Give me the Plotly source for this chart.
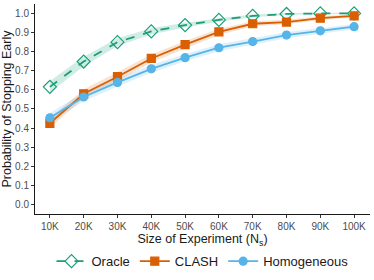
import plotly.graph_objects as go

sizes = ["10K", "20K", "30K", "40K", "50K", "60K", "70K", "80K", "90K", "100K"]
oracle = [0.615, 0.747, 0.848, 0.904, 0.937, 0.964, 0.985, 0.995, 0.998, 0.998]
oracle_lo = [0.585, 0.722, 0.828, 0.888, 0.925, 0.955, 0.978, 0.990, 0.994, 0.994]
oracle_hi = [0.645, 0.772, 0.868, 0.920, 0.949, 0.973, 0.992, 1.000, 1.002, 1.002]
clash = [0.425, 0.579, 0.668, 0.763, 0.835, 0.902, 0.944, 0.953, 0.973, 0.985]
clash_lo = [0.400, 0.555, 0.645, 0.742, 0.816, 0.886, 0.931, 0.941, 0.963, 0.977]
clash_hi = [0.450, 0.603, 0.691, 0.784, 0.854, 0.918, 0.957, 0.965, 0.983, 0.993]
homog = [0.454, 0.562, 0.638, 0.709, 0.767, 0.819, 0.851, 0.885, 0.907, 0.929]
homog_lo = [0.430, 0.540, 0.617, 0.689, 0.748, 0.801, 0.834, 0.869, 0.892, 0.915]
homog_hi = [0.478, 0.584, 0.659, 0.729, 0.786, 0.837, 0.868, 0.901, 0.922, 0.943]
yticks = [0.0, 0.1, 0.2, 0.3, 0.4, 0.5, 0.6, 0.7, 0.8, 0.9, 1.0]

xs = list(range(1, len(sizes) + 1))

series = [
    ("Oracle", oracle, oracle_lo, oracle_hi, "#1b9e77", "rgba(27,158,119,0.2)", "diamond-open", 10, "dash"),
    ("CLASH", clash, clash_lo, clash_hi, "#d95f02", "rgba(217,95,2,0.18)", "square", 8, "solid"),
    ("Homogeneous", homog, homog_lo, homog_hi, "#56b4e9", "rgba(86,180,233,0.2)", "circle", 8, "solid"),
]

fig = go.Figure()
for name, y, lo, hi, col, fillc, sym, ms, dash in series:
    fig.add_trace(go.Scatter(
        x=xs + xs[::-1], y=hi + lo[::-1], fill="toself", fillcolor=fillc,
        line=dict(width=0), mode="lines", showlegend=False, hoverinfo="skip"))
for name, y, lo, hi, col, fillc, sym, ms, dash in series:
    fig.add_trace(go.Scatter(
        x=xs, y=y, name=name, mode="lines+markers",
        line=dict(color=col, width=1.8, dash=dash),
        marker=dict(symbol=sym, size=ms, color=col,
                    line=dict(color=col, width=1.2))))

fig.update_layout(
    width=374, height=280,
    margin=dict(l=35, r=4, t=4, b=60),
    paper_bgcolor="white", plot_bgcolor="white",
    font=dict(family="Liberation Sans, Arial, sans-serif", color="#1a1a1a"),
    showlegend=True,
    legend=dict(orientation="h", x=0.5, xanchor="center", y=-0.225, yanchor="middle",
                font=dict(size=13, color="#1a1a1a"), itemwidth=30,
                tracegroupgap=0),
    xaxis=dict(
        range=[0.56, 10.47], tickmode="array", tickvals=xs, ticktext=sizes,
        showline=True, linecolor="#1a1a1a", linewidth=1, ticks="outside",
        ticklen=3, tickcolor="#333333", tickfont=dict(size=10, color="#4d4d4d"),
        showgrid=False, zeroline=False, automargin=False,
        title=dict(text="Size of Experiment (N<sub>s</sub>)", font=dict(size=12.5), standoff=2)),
    yaxis=dict(
        range=[-0.048, 1.047], tickmode="array", tickvals=yticks,
        ticktext=[f"{v:.1f}" for v in yticks],
        showline=True, linecolor="#1a1a1a", linewidth=1, ticks="outside",
        ticklen=3, tickcolor="#333333", tickfont=dict(size=10, color="#4d4d4d"),
        showgrid=False, zeroline=False, automargin=False,
        title=dict(text="Probability of Stopping Early", font=dict(size=12.5), standoff=3)),
)

fig.write_html("out.html", config={"displayModeBar": False},
               post_script="document.body.style.margin='0';")
